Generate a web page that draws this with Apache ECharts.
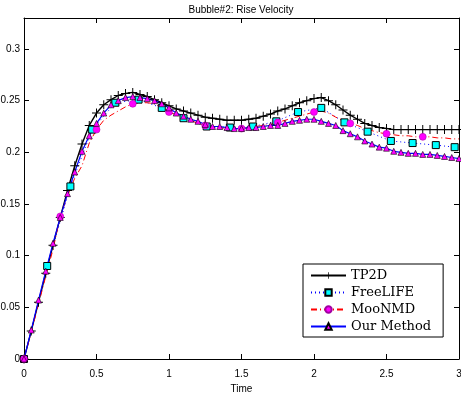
<!DOCTYPE html>
<html>
<head>
<meta charset="utf-8">
<script src="https://cdn.jsdelivr.net/npm/echarts@6/dist/echarts.min.js"></script>
<style>
    html, body { margin: 0; padding: 0; background: #fff; }
</style>
</head>
<body>
<div id="main" style="width: 461px;height: 394px"></div>
<script>
    // time samples (s) shared by TP2D, MooNMD and Our Method
    const timeSteps = [0, 0.05, 0.1, 0.15, 0.2, 0.25, 0.3, 0.35, 0.4, 0.45, 0.5, 0.55, 0.6, 0.65, 0.7, 0.75, 0.8, 0.85, 0.9, 0.95,
        1, 1.05, 1.1, 1.15, 1.2, 1.25, 1.3, 1.35, 1.4, 1.45, 1.5, 1.55, 1.6, 1.65, 1.7, 1.75, 1.8, 1.85, 1.9, 1.95,
        2, 2.05, 2.1, 2.15, 2.2, 2.25, 2.3, 2.35, 2.4, 2.45, 2.5, 2.55, 2.6, 2.65, 2.7, 2.75, 2.8, 2.85, 2.9, 2.95, 3];

    const tp2dValues = [0, 0.027, 0.055, 0.083, 0.11, 0.137, 0.163, 0.187, 0.208, 0.226, 0.238, 0.246, 0.251, 0.255, 0.257, 0.258, 0.256, 0.254, 0.251, 0.248,
        0.245, 0.242, 0.24, 0.238, 0.236, 0.234, 0.233, 0.232, 0.231, 0.231, 0.231, 0.232, 0.233, 0.235, 0.237, 0.24, 0.242, 0.245, 0.248, 0.25,
        0.252, 0.253, 0.25, 0.246, 0.241, 0.236, 0.232, 0.228, 0.226, 0.224, 0.223, 0.222, 0.222, 0.222, 0.222, 0.222, 0.222, 0.222, 0.222, 0.222, 0.222];

    const mooValues = [0, 0.026, 0.053, 0.08, 0.106, 0.138, 0.158, 0.175, 0.187, 0.209, 0.222, 0.231, 0.236, 0.24, 0.244, 0.247, 0.248, 0.248, 0.247, 0.243,
        0.239, 0.236, 0.233, 0.231, 0.228, 0.226, 0.225, 0.224, 0.223, 0.223, 0.223, 0.224, 0.225, 0.226, 0.227, 0.229, 0.231, 0.233, 0.235, 0.237,
        0.239, 0.24, 0.238, 0.234, 0.231, 0.228, 0.226, 0.223, 0.221, 0.219, 0.218, 0.217, 0.216, 0.216, 0.215, 0.215, 0.215, 0.214, 0.214, 0.213, 0.213];

    const ourValues = [0, 0.028, 0.057, 0.085, 0.112, 0.137, 0.16, 0.181, 0.201, 0.216, 0.228, 0.238, 0.246, 0.25, 0.253, 0.254, 0.253, 0.252, 0.25, 0.247,
        0.243, 0.238, 0.235, 0.232, 0.23, 0.227, 0.225, 0.225, 0.224, 0.223, 0.223, 0.224, 0.224, 0.225, 0.226, 0.226, 0.228, 0.23, 0.231, 0.232,
        0.232, 0.23, 0.228, 0.226, 0.221, 0.218, 0.215, 0.211, 0.208, 0.205, 0.204, 0.201, 0.2, 0.199, 0.199, 0.198, 0.198, 0.197, 0.196, 0.195, 0.194];

    // FreeLIFE is sampled more coarsely
    const freeTimes = [0, 0.16, 0.32, 0.47, 0.63, 0.79, 0.95, 1.1, 1.26, 1.42, 1.58, 1.74, 1.89, 2.05, 2.21, 2.37, 2.53, 2.68, 2.84, 2.97];
    const freeValues = [0, 0.09, 0.167, 0.222, 0.248, 0.251, 0.243, 0.233, 0.225, 0.224, 0.225, 0.23, 0.239, 0.243, 0.229, 0.22, 0.211, 0.209, 0.207, 0.205];

    const xTicks = ['0', '0.5', '1', '1.5', '2', '2.5', '3'];
    const yTicks = ['0', '0.05', '0.1', '0.15', '0.2', '0.25', '0.3'];

    function pairs(xs, ys) {
        return xs.map((x, i) => [x, ys[i]]);
    }

    const plusSymbol = 'path://M0,4.45h10v1.1h-10z M4.45,0h1.1v10h-1.1z';
    const labelFont = 'Liberation Sans, Arial, sans-serif';

    let myChart = echarts.init(document.getElementById('main'));
    let option = {
        animation: false,
        backgroundColor: '#fff',
        title: {
            text: 'Bubble#2: Rise Velocity',
            left: 236,
            top: 0,
            textAlign: 'center',
            textStyle: {fontSize: 10, fontWeight: 'normal', color: '#000', fontFamily: labelFont}
        },
        grid: {left: 24, right: 2, top: 18, bottom: 35, outerBoundsMode: 'none', containLabel: false},
        legend: {
            orient: 'vertical',
            left: 303,
            top: 264,
            itemWidth: 35,
            itemHeight: 8,
            itemGap: 2,
            padding: [4, 12, 3, 7],
            backgroundColor: '#fff',
            borderColor: '#000',
            borderWidth: 1,
            borderRadius: 0,
            textStyle: {fontSize: 13, color: '#000', fontFamily: 'DejaVu Serif, serif', lineHeight: 15},
            data: ['TP2D', 'FreeLIFE', 'MooNMD', 'Our Method']
        },
        xAxis: [{
            type: 'value',
            position: 'bottom',
            min: 0, max: 3, interval: 0.5,
            name: 'Time',
            nameLocation: 'middle',
            nameGap: 24,
            nameTextStyle: {fontSize: 10, color: '#000', fontFamily: labelFont},
            axisLine: {onZero: false, lineStyle: {color: '#000', width: 1}},
            axisTick: {inside: true, length: 5, lineStyle: {color: '#000'}},
            axisLabel: {
                fontSize: 10, color: '#000', margin: 10, fontFamily: labelFont,
                formatter: (v) => xTicks.includes(String(v)) ? String(v) : ''
            },
            splitLine: {show: false}
        }, {
            type: 'value',
            position: 'top',
            min: 0, max: 3, interval: 0.5,
            axisLine: {onZero: false, lineStyle: {color: '#000', width: 1}},
            axisTick: {inside: true, length: 5, lineStyle: {color: '#000'}},
            axisLabel: {show: false},
            splitLine: {show: false}
        }],
        yAxis: [{
            type: 'value',
            position: 'left',
            min: 0, max: 0.33, interval: 0.05,
            axisLine: {show: true, onZero: false, lineStyle: {color: '#000', width: 1}},
            axisTick: {show: true, inside: true, length: 5, lineStyle: {color: '#000'}},
            axisLabel: {
                fontSize: 10, color: '#000', margin: 4, fontFamily: labelFont, showMaxLabel: false,
                formatter: (v) => {
                    const s = String(+v.toFixed(2));
                    return yTicks.includes(s) ? s : '';
                }
            },
            splitLine: {show: false}
        }, {
            type: 'value',
            position: 'right',
            min: 0, max: 0.33, interval: 0.05,
            axisLine: {show: true, onZero: false, lineStyle: {color: '#000', width: 1}},
            axisTick: {show: true, inside: true, length: 5, lineStyle: {color: '#000'}},
            axisLabel: {show: false},
            splitLine: {show: false}
        }],
        series: [
            {
                name: 'TP2D',
                type: 'line',
                data: pairs(timeSteps, tp2dValues),
                showAllSymbol: true,
                symbol: plusSymbol,
                symbolSize: 9,
                lineStyle: {color: '#000', width: 1.4},
                itemStyle: {color: '#000'}
            },
            {
                name: 'FreeLIFE',
                type: 'line',
                data: pairs(freeTimes, freeValues),
                showAllSymbol: true,
                symbol: 'rect',
                symbolSize: 7,
                lineStyle: {color: '#0000ff', width: 1, type: [1, 3]},
                itemStyle: {color: '#00ffff', borderColor: '#000', borderWidth: 1}
            },
            {
                name: 'MooNMD',
                type: 'line',
                data: pairs(timeSteps, mooValues),
                showAllSymbol: true,
                // circle on every 5th sample, as in the original plot
                symbol: (value, params) => (params.dataIndex % 5 === 0 && params.dataIndex < 60) ? 'circle' : 'none',
                symbolSize: 7,
                lineStyle: {color: '#ff0000', width: 1, type: [6, 3, 1, 3]},
                itemStyle: {color: '#ff00ff', borderColor: '#a000a0', borderWidth: 0.5}
            },
            {
                name: 'Our Method',
                type: 'line',
                data: pairs(timeSteps, ourValues),
                showAllSymbol: true,
                symbol: 'triangle',
                symbolSize: 6,
                lineStyle: {color: '#0000ff', width: 1.2},
                itemStyle: {color: '#ff00ff', borderColor: '#000', borderWidth: 0.6}
            }
        ]
    };
    myChart.setOption(option);
</script>
</body>
</html>
